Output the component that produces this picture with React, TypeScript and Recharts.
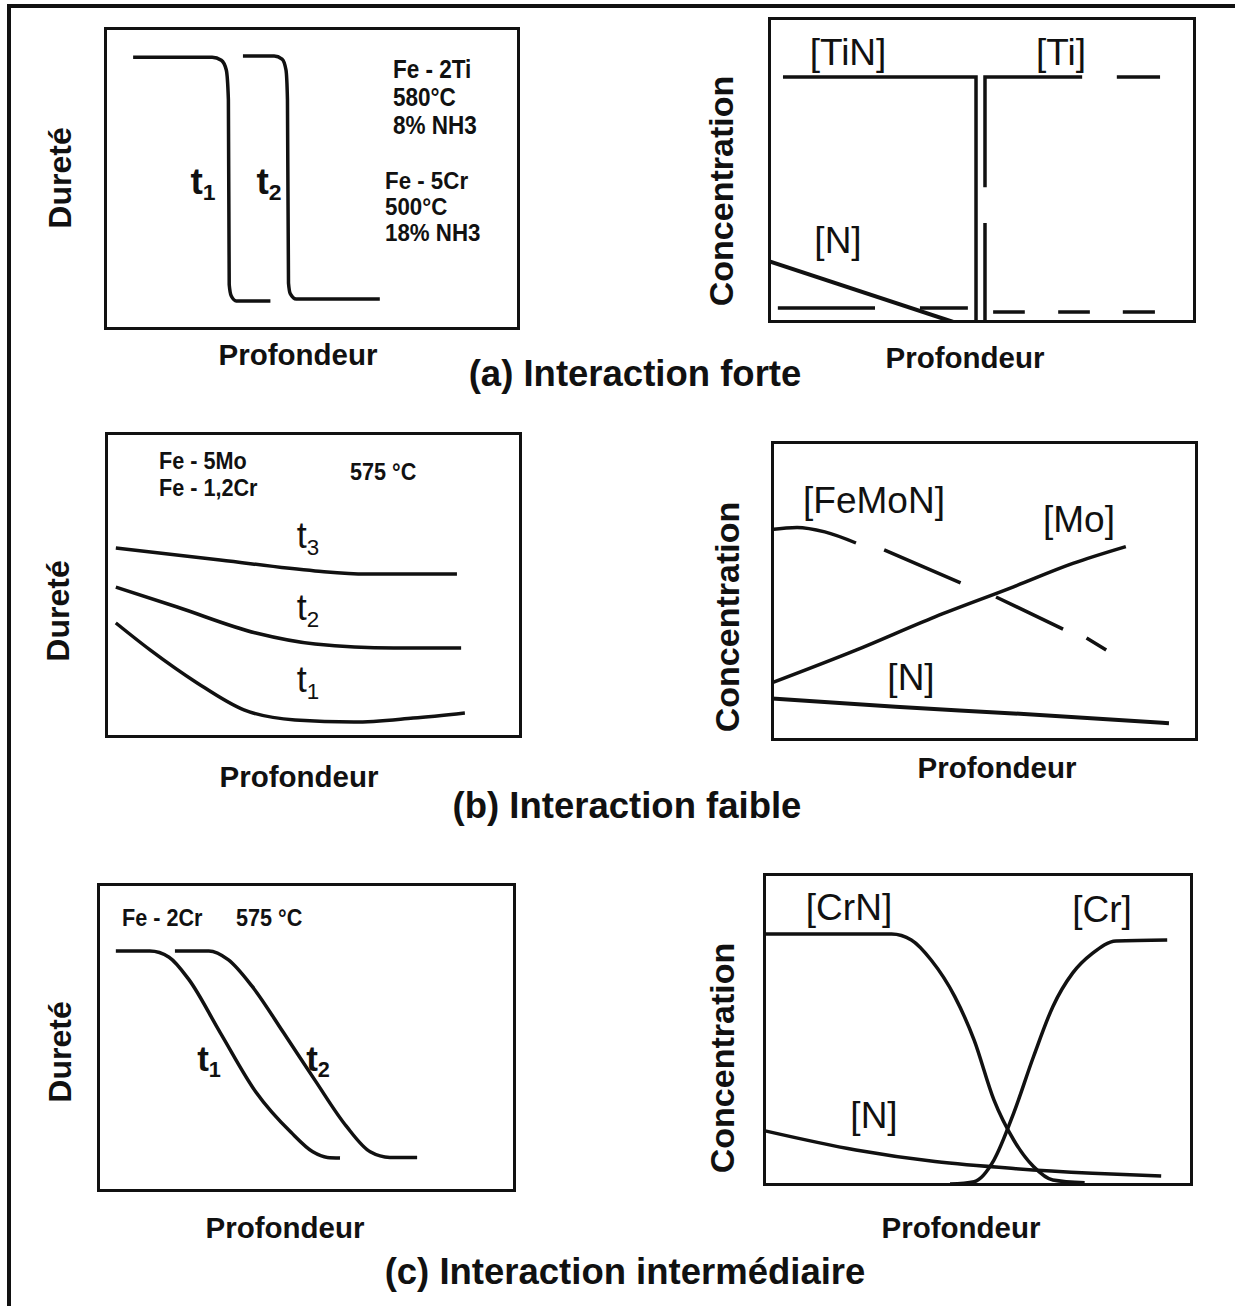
import React from 'react';
import { LineChart, Line, XAxis, YAxis } from 'recharts';

type Pt = { x: number; y: number | null };

const INK = '#111';

// depth (x) and level (y) are relative, 0..100 inside each frame

// (a) forte — hardness profiles
const hardA1: Pt[] = [
    { x: 7, y: 90 }, { x: 26, y: 90 }, { x: 28.2, y: 89 }, { x: 29.4, y: 85.8 }, { x: 29.9, y: 76 },
    { x: 30.1, y: 15 }, { x: 30.6, y: 11.2 }, { x: 31.8, y: 9.6 }, { x: 40, y: 9.6 },
];
const hardA2: Pt[] = [
    { x: 33.4, y: 90.4 }, { x: 40.9, y: 90.4 }, { x: 42.8, y: 89.4 }, { x: 43.75, y: 85.8 }, { x: 44.1, y: 76 },
    { x: 44.35, y: 15.5 }, { x: 44.8, y: 11.9 }, { x: 46.2, y: 10.2 }, { x: 66.3, y: 10.2 },
];

// (a) forte — concentrations
const tinA: Pt[] = [{ x: 3.5, y: 80.4 }, { x: 48.6, y: 80.4 }, { x: 48.6, y: 0 }];
const tiA: Pt[] = [
    { x: 50.7, y: 0 }, { x: 50.7, y: 32.7 }, { x: 50.7, y: null }, { x: 50.7, y: 44.4 }, { x: 50.7, y: 80.4 },
    { x: 73.4, y: 80.4 }, { x: 77, y: null }, { x: 81.5, y: 80.4 }, { x: 91.6, y: 80.4 },
];
const lowLeftA: Pt[] = [{ x: 2.3, y: 4.9 }, { x: 25, y: 4.9 }, { x: 30, y: null }, { x: 35.5, y: 4.9 }, { x: 46.7, y: 4.9 }];
const lowRightA: Pt[] = [
    { x: 52.6, y: 3.6 }, { x: 60, y: 3.6 }, { x: 64, y: null }, { x: 67.8, y: 3.6 }, { x: 75.2, y: 3.6 },
    { x: 79, y: null }, { x: 82.9, y: 3.6 }, { x: 90.4, y: 3.6 },
];
const nA: Pt[] = [{ x: 0, y: 20.3 }, { x: 44, y: 0 }];

// (b) faible — hardness profiles
const hardB3: Pt[] = [{ x: 2.6, y: 62.1 }, { x: 27.6, y: 58.2 }, { x: 50.4, y: 54.6 }, { x: 62.6, y: 53.6 }, { x: 84.4, y: 53.6 }];
const hardB2: Pt[] = [
    { x: 2.6, y: 49.3 }, { x: 17.3, y: 42.8 }, { x: 36.2, y: 34.3 }, { x: 50.4, y: 30.7 }, { x: 69.3, y: 29.4 }, { x: 85.4, y: 29.4 },
];
const hardB1: Pt[] = [
    { x: 2.6, y: 37.6 }, { x: 10.8, y: 28.8 }, { x: 22.1, y: 18 }, { x: 33.3, y: 9.2 }, { x: 45.6, y: 5.9 },
    { x: 59.7, y: 5.2 }, { x: 73.9, y: 6.5 }, { x: 86.3, y: 8.2 },
];

// (b) faible — concentrations
const femonB: Pt[] = [
    { x: 0, y: 70.5 }, { x: 6.1, y: 71.2 }, { x: 12.6, y: 69.7 }, { x: 19.9, y: 66 }, { x: 23, y: null },
    { x: 26.5, y: 63.7 }, { x: 44.4, y: 52.7 }, { x: 48, y: null }, { x: 52.7, y: 48 }, { x: 68.4, y: 37.3 },
    { x: 71, y: null }, { x: 73.9, y: 34.3 }, { x: 78.5, y: 30.3 },
];
const moB: Pt[] = [
    { x: 0, y: 19.3 }, { x: 19.9, y: 30.3 }, { x: 38.4, y: 41.4 }, { x: 56.8, y: 51.4 }, { x: 70.7, y: 59.2 }, { x: 83.1, y: 64.8 },
];
const nB: Pt[] = [{ x: 0, y: 14.2 }, { x: 29.2, y: 11.4 }, { x: 56.8, y: 9.2 }, { x: 93.2, y: 5.9 }];

// (c) intermédiaire — hardness profiles
const hardC1: Pt[] = [
    { x: 4.5, y: 78 }, { x: 12.6, y: 78 }, { x: 17.2, y: 76 }, { x: 21.9, y: 68.8 }, { x: 29.4, y: 51.6 },
    { x: 38, y: 32.2 }, { x: 46.3, y: 19.3 }, { x: 51.5, y: 13 }, { x: 55, y: 11.2 }, { x: 58, y: 11 },
];
const hardC2: Pt[] = [
    { x: 18.6, y: 78 }, { x: 26.7, y: 78 }, { x: 31.3, y: 75.2 }, { x: 37, y: 66.6 }, { x: 44.5, y: 51.6 },
    { x: 52, y: 36.2 }, { x: 59.5, y: 21.3 }, { x: 65.2, y: 13 }, { x: 69.9, y: 11.2 }, { x: 76.4, y: 11.2 },
];

// (c) intermédiaire — concentrations
const crnC: Pt[] = [
    { x: 0, y: 80.5 }, { x: 29.9, y: 80.5 }, { x: 34.5, y: 78.6 }, { x: 39.1, y: 72.2 }, { x: 44.6, y: 60.5 },
    { x: 49.1, y: 46.6 }, { x: 53.7, y: 27.5 }, { x: 58.3, y: 14.7 }, { x: 62.9, y: 6.2 }, { x: 67.4, y: 1.9 }, { x: 74.8, y: 1 },
];
const crC: Pt[] = [
    { x: 43.5, y: 0.6 }, { x: 49.1, y: 1.4 }, { x: 53.7, y: 8.3 }, { x: 58.3, y: 23.3 }, { x: 62.9, y: 41.3 },
    { x: 67.4, y: 57.3 }, { x: 72, y: 68 }, { x: 76.6, y: 74.3 }, { x: 82.1, y: 78.3 }, { x: 94, y: 78.6 },
];
const nC: Pt[] = [{ x: 0.5, y: 17.6 }, { x: 21.6, y: 11.5 }, { x: 40, y: 7.8 }, { x: 58.3, y: 5.6 }, { x: 76.6, y: 4.1 }, { x: 92.6, y: 3.2 }];

// treatment notes, one line per entry
const notesTi = ['Fe - 2Ti', '580°C', '8% NH3'];
const notesCr5 = ['Fe - 5Cr', '500°C', '18% NH3'];
const notesB = ['Fe - 5Mo', 'Fe - 1,2Cr'];

type Series = { data: Pt[]; curve?: 'monotone' | 'linear'; w?: number };

interface FrameProps {
    left: number;
    top: number;
    width: number;
    height: number;
    series: Series[];
}

const Frame = ({ left, top, width, height, series }: FrameProps) => (
    <div style={{ position: 'absolute', left, top, width, height }}>
        <LineChart width={width} height={height} margin={{ top: 0, right: 0, bottom: 0, left: 0 }}>
            <XAxis type="number" dataKey="x" domain={[0, 100]} hide />
            <YAxis type="number" domain={[0, 100]} hide />
            {series.map((s, i) => (
                <Line
                    key={i}
                    data={s.data}
                    dataKey="y"
                    type={s.curve ?? 'monotone'}
                    stroke={INK}
                    strokeWidth={s.w ?? 3.5}
                    dot={false}
                    activeDot={false}
                    connectNulls={false}
                    isAnimationActive={false}
                />
            ))}
        </LineChart>
        <div style={{ position: 'absolute', inset: 0, border: `3.5px solid ${INK}`, boxSizing: 'border-box', pointerEvents: 'none' }} />
    </div>
);

interface TxtProps {
    x: number;
    y: number;
    size: number;
    weight?: number;
    rotate?: number;
    start?: boolean;
    sx?: number;
    lh?: number | string;
    children: React.ReactNode;
}

// x, y is the centre of the text (or its left edge when start is set)
const Txt = ({ x, y, size, weight = 700, rotate, start, sx, lh = 1, children }: TxtProps) => (
    <div
        style={{
            position: 'absolute',
            left: x,
            top: y,
            transform: `translate(${start ? '0' : '-50%'}, -50%)${rotate ? ` rotate(${rotate}deg)` : ''}${sx ? ` scaleX(${sx})` : ''}`,
            transformOrigin: start ? 'left center' : 'center',
            fontSize: size,
            fontWeight: weight,
            whiteSpace: 'nowrap',
            lineHeight: lh,
        }}
    >
        {children}
    </div>
);

interface NoteProps {
    x: number;
    y: number;
    size?: number;
    sx?: number;
    step: number;
    lines: string[];
}

// small condensed note block inside the hardness frames
const Note = ({ x, y, size = 25, sx = 0.9, step, lines }: NoteProps) => (
    <Txt x={x} y={y} size={size} start sx={sx} lh={`${step}px`}>
        {lines.map((l, i) => (
            <React.Fragment key={i}>
                {i > 0 && <br />}
                {l}
            </React.Fragment>
        ))}
    </Txt>
);

const T = ({ n }: { n: number }) => (
    <>
        t<sub style={{ fontSize: '0.62em', verticalAlign: '-0.3em', lineHeight: 0 }}>{n}</sub>
    </>
);

const App = () => (
    <div
        style={{
            position: 'absolute',
            left: 0,
            top: 0,
            width: 1235,
            height: 1306,
            background: '#fff',
            color: INK,
            fontFamily: '"Liberation Sans", Arial, Helvetica, sans-serif',
            overflow: 'hidden',
        }}
    >
        <div style={{ position: 'absolute', left: 7, top: 4, right: 0, bottom: 0, borderTop: `4px solid ${INK}`, borderLeft: `4px solid ${INK}` }} />

        {/* (a) */}
        <Frame left={104} top={27} width={416} height={303} series={[{ data: hardA1 }, { data: hardA2 }]} />
        <Txt x={60} y={178} size={32} rotate={-90}>Dureté</Txt>
        <Txt x={298} y={355} size={29.5}>Profondeur</Txt>
        <Txt x={203} y={181} size={37}><T n={1} /></Txt>
        <Txt x={269} y={181} size={37}><T n={2} /></Txt>
        <Note x={393} y={97} step={28} lines={notesTi} />
        <Note x={385} y={207} size={23} sx={0.97} step={26} lines={notesCr5} />

        <Frame
            left={768}
            top={17}
            width={428}
            height={306}
            series={[
                { data: tinA, curve: 'linear' },
                { data: tiA, curve: 'linear' },
                { data: lowLeftA, curve: 'linear' },
                { data: lowRightA, curve: 'linear' },
                { data: nA, curve: 'linear', w: 4 },
            ]}
        />
        <Txt x={721} y={191} size={34} rotate={-90}>Concentration</Txt>
        <Txt x={965} y={358} size={29.5}>Profondeur</Txt>
        <Txt x={848} y={52} size={37} weight={400}>[TiN]</Txt>
        <Txt x={1061} y={52} size={37} weight={400}>[Ti]</Txt>
        <Txt x={838} y={240} size={37} weight={400}>[N]</Txt>
        <Txt x={635} y={374} size={36.5}>(a) Interaction forte</Txt>

        {/* (b) */}
        <Frame left={105} top={432} width={417} height={306} series={[{ data: hardB3 }, { data: hardB2 }, { data: hardB1 }]} />
        <Txt x={58} y={611} size={32} rotate={-90}>Dureté</Txt>
        <Txt x={299} y={777} size={29.5}>Profondeur</Txt>
        <Txt x={308} y={536} size={36} weight={400}><T n={3} /></Txt>
        <Txt x={308} y={608} size={36} weight={400}><T n={2} /></Txt>
        <Txt x={308} y={680} size={36} weight={400}><T n={1} /></Txt>
        <Note x={159} y={473.5} size={24} step={27} lines={notesB} />
        <Note x={350} y={471} size={24} step={27} lines={['575 °C']} />

        <Frame
            left={771}
            top={441}
            width={427}
            height={300}
            series={[{ data: femonB }, { data: moB }, { data: nB, w: 4 }]}
        />
        <Txt x={727} y={617} size={34} rotate={-90}>Concentration</Txt>
        <Txt x={997} y={768} size={29.5}>Profondeur</Txt>
        <Txt x={874} y={500} size={37} weight={400}>[FeMoN]</Txt>
        <Txt x={1079} y={519} size={37} weight={400}>[Mo]</Txt>
        <Txt x={911} y={677} size={37} weight={400}>[N]</Txt>
        <Txt x={627} y={806} size={36.5}>(b) Interaction faible</Txt>

        {/* (c) */}
        <Frame left={97} top={883} width={419} height={309} series={[{ data: hardC1 }, { data: hardC2 }]} />
        <Txt x={60} y={1052} size={32} rotate={-90}>Dureté</Txt>
        <Txt x={285} y={1228} size={29.5}>Profondeur</Txt>
        <Txt x={209} y={1058} size={35}><T n={1} /></Txt>
        <Txt x={318} y={1058} size={35}><T n={2} /></Txt>
        <Note x={122} y={917} size={24} step={27} lines={['Fe - 2Cr']} />
        <Note x={236} y={917} size={24} step={27} lines={['575 °C']} />

        <Frame
            left={763}
            top={873}
            width={430}
            height={313}
            series={[{ data: crnC }, { data: crC }, { data: nC }]}
        />
        <Txt x={722} y={1058} size={34} rotate={-90}>Concentration</Txt>
        <Txt x={961} y={1228} size={29.5}>Profondeur</Txt>
        <Txt x={849} y={907} size={37} weight={400}>[CrN]</Txt>
        <Txt x={1102} y={909} size={37} weight={400}>[Cr]</Txt>
        <Txt x={874} y={1115} size={37} weight={400}>[N]</Txt>
        <Txt x={625} y={1272} size={36.5}>(c) Interaction intermédiaire</Txt>
    </div>
);

export default App;
